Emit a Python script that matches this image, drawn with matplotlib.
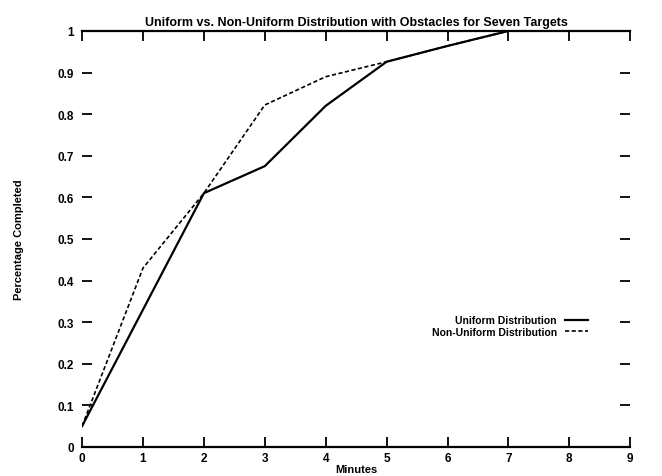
import matplotlib
matplotlib.use("Agg")
import matplotlib.pyplot as plt

plt.rcParams["font.family"] = ["Liberation Sans", "DejaVu Sans"]
plt.rcParams["font.weight"] = "bold"
plt.rcParams["axes.labelweight"] = "bold"
plt.rcParams["font.size"] = 7.5

minutes = [0, 1, 2, 3, 4, 5, 6, 7]
uniform = [0.05, 0.33, 0.61, 0.675, 0.82, 0.926, 0.964, 1.0]
non_uniform = [0.05, 0.43, 0.61, 0.822, 0.89, 0.926, 0.964, 1.0]

x_ticks = [0, 1, 2, 3, 4, 5, 6, 7, 8, 9]
y_ticks = [0, 0.1, 0.2, 0.3, 0.4, 0.5, 0.6, 0.7, 0.8, 0.9, 1.0]
y_tick_labels = ["0", "0.1", "0.2", "0.3", "0.4", "0.5", "0.6", "0.7", "0.8", "0.9", "1"]

fig = plt.figure(figsize=(6.62, 4.77), dpi=100)
ax = fig.add_axes([0.124, 0.061, 0.828, 0.872])

ax.plot(minutes, uniform, color="black", lw=1.6, label="Uniform Distribution")
ax.plot(minutes, non_uniform, color="black", lw=1.2, linestyle=(0, (2.5, 1.5)),
        label="Non-Uniform Distribution")

ax.set_xlim(0, 9)
ax.set_ylim(0, 1)
ax.set_xticks(x_ticks)
ax.set_yticks(y_ticks)
ax.set_yticklabels(y_tick_labels)

ax.spines["left"].set_visible(False)
ax.spines["right"].set_visible(False)
ax.spines["top"].set_linewidth(1.6)
ax.spines["bottom"].set_linewidth(1.6)
ax.tick_params(direction="in", length=7, width=1.3, top=True, right=True, pad=4,
               labelsize=8.5)
ax.tick_params(axis="y", pad=6)

ax.set_title("Uniform vs. Non-Uniform Distribution with Obstacles for Seven Targets",
             fontsize=9, fontweight="bold", pad=4)
ax.set_xlabel("Minutes", labelpad=0, fontsize=8)
ax.set_ylabel("Percentage Completed", labelpad=24, fontsize=8)

ax.legend(loc="center right", bbox_to_anchor=(0.94, 0.29), frameon=False,
          markerfirst=False, handlelength=2.2, handletextpad=0.8, labelspacing=0.15,
          fontsize=7.5)

fig.savefig("out.png", dpi=100)
